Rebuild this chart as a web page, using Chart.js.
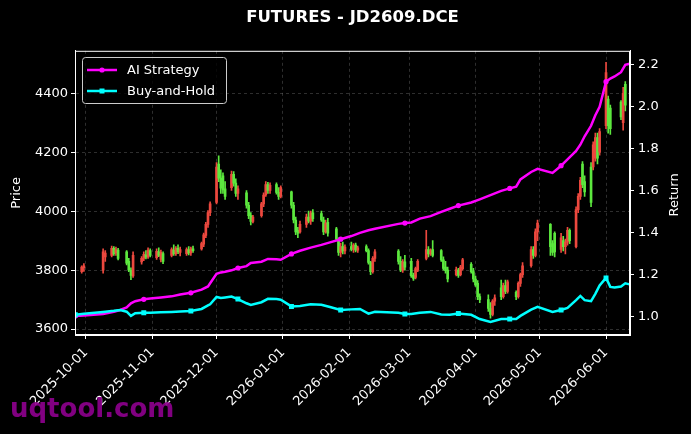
<!DOCTYPE html>
<html><head><meta charset="utf-8">
<script src="https://cdn.jsdelivr.net/npm/chart.js@4.4.1/dist/chart.umd.min.js"></script>
<style>html,body{margin:0;padding:0;background:#000;} #wrap{position:relative;width:691px;height:434px;}</style>
</head><body><div id="wrap"><canvas id="c" width="691" height="434"></canvas></div>
<script>
const chartTitle = 'FUTURES - JD2609.DCE';
const xTickLabels = ['2025-10-01','2025-11-01','2025-12-01','2026-01-01','2026-02-01','2026-03-01','2026-04-01','2026-05-01','2026-06-01'];
const priceTicks = [3600, 3800, 4000, 4200, 4400];
const returnTicks = [1.0, 1.2, 1.4, 1.6, 1.8, 2.0, 2.2];

const candleDates = ['2025-09-29','2025-09-30','2025-10-09','2025-10-10','2025-10-13','2025-10-14','2025-10-15','2025-10-16','2025-10-20','2025-10-21','2025-10-22','2025-10-23','2025-10-27','2025-10-28','2025-10-29','2025-10-30','2025-10-31','2025-11-03','2025-11-04','2025-11-05','2025-11-06','2025-11-10','2025-11-11','2025-11-12','2025-11-13','2025-11-14','2025-11-17','2025-11-18','2025-11-19','2025-11-20','2025-11-24','2025-11-25','2025-11-26','2025-11-27','2025-11-28','2025-12-01','2025-12-02','2025-12-03','2025-12-04','2025-12-05','2025-12-08','2025-12-09','2025-12-10','2025-12-11','2025-12-15','2025-12-16','2025-12-17','2025-12-18','2025-12-22','2025-12-23','2025-12-24','2025-12-25','2025-12-26','2025-12-29','2025-12-30','2025-12-31','2026-01-05','2026-01-06','2026-01-07','2026-01-08','2026-01-09','2026-01-12','2026-01-13','2026-01-14','2026-01-15','2026-01-19','2026-01-20','2026-01-21','2026-01-22','2026-01-26','2026-01-27','2026-01-28','2026-01-29','2026-01-30','2026-02-02','2026-02-03','2026-02-04','2026-02-05','2026-02-09','2026-02-10','2026-02-11','2026-02-12','2026-02-13','2026-02-24','2026-02-25','2026-02-26','2026-02-27','2026-03-02','2026-03-03','2026-03-04','2026-03-05','2026-03-09','2026-03-10','2026-03-11','2026-03-12','2026-03-16','2026-03-17','2026-03-18','2026-03-19','2026-03-23','2026-03-24','2026-03-25','2026-03-26','2026-03-30','2026-03-31','2026-04-01','2026-04-02','2026-04-03','2026-04-07','2026-04-08','2026-04-09','2026-04-10','2026-04-13','2026-04-14','2026-04-15','2026-04-16','2026-04-20','2026-04-21','2026-04-22','2026-04-23','2026-04-27','2026-04-28','2026-04-29','2026-04-30','2026-05-06','2026-05-07','2026-05-08','2026-05-11','2026-05-12','2026-05-13','2026-05-14','2026-05-15','2026-05-18','2026-05-19','2026-05-20','2026-05-21','2026-05-22','2026-05-25','2026-05-26','2026-05-27','2026-05-28','2026-05-29','2026-06-01','2026-06-02','2026-06-03','2026-06-08','2026-06-09','2026-06-10'];
const openP  = [3795,3808,3800,3845,3850,3874,3858,3868,3862,3830,3800,3780,3828,3840,3852,3845,3866,3842,3862,3836,3856,3850,3868,3856,3874,3860,3856,3870,3858,3872,3872,3888,3918,3955,3995,4030,4160,4112,4120,4076,4080,4125,4095,4060,4062,4020,3985,3965,3985,4025,4055,4090,4070,4090,4064,4050,4066,4020,3970,3935,3930,3955,3980,3966,3994,3992,3970,3930,3962,3940,3905,3860,3880,3865,3880,3870,3885,3868,3880,3866,3826,3795,3840,3865,3830,3800,3828,3830,3782,3775,3800,3840,3870,3855,3870,3866,3835,3810,3800,3785,3800,3785,3805,3820,3795,3770,3755,3710,3700,3670,3650,3695,3740,3710,3748,3728,3725,3710,3755,3785,3815,3870,3850,3930,3955,3890,3925,3870,3900,3880,3895,3935,3880,4005,4050,4160,4100,4150,4150,4180,4250,4200,4290,4380,4350,4370,4300,4430];
const highP  = [3815,3822,3872,3866,3882,3880,3878,3874,3866,3840,3808,3862,3846,3862,3866,3876,3872,3872,3876,3868,3862,3876,3886,3880,3886,3878,3876,3880,3878,3882,3895,3926,3962,4002,4032,4165,4188,4140,4130,4100,4136,4134,4110,4086,4070,4030,3995,3986,4030,4062,4100,4098,4096,4096,4080,4086,4068,4030,3980,3945,3966,3990,4000,4000,4005,4000,3980,3970,3976,3945,3910,3892,3895,3886,3895,3890,3892,3882,3886,3872,3830,3846,3870,3870,3846,3836,3850,3840,3790,3810,3836,3935,3880,3872,3900,3870,3845,3830,3810,3810,3806,3816,3840,3826,3806,3780,3765,3720,3716,3690,3700,3716,3766,3756,3766,3766,3730,3760,3790,3826,3880,3880,3940,3970,3958,3900,3930,3925,3915,3905,3945,3940,4015,4060,4115,4168,4120,4165,4235,4265,4265,4280,4505,4390,4360,4375,4420,4440];
const lowP   = [3790,3796,3790,3830,3845,3850,3850,3835,3818,3795,3768,3775,3820,3832,3838,3840,3845,3836,3846,3828,3822,3845,3850,3850,3856,3848,3850,3852,3850,3860,3868,3880,3910,3945,3985,4025,4100,4060,4060,4040,4070,4085,4050,4040,4010,3975,3953,3960,3980,4015,4050,4060,4060,4058,4040,4045,4010,3960,3920,3910,3925,3945,3960,3955,3965,3965,3920,3925,3915,3900,3850,3845,3855,3855,3865,3860,3862,3860,3862,3820,3785,3790,3830,3820,3795,3792,3800,3775,3765,3770,3795,3835,3845,3850,3845,3830,3800,3790,3760,3780,3775,3780,3800,3790,3760,3745,3700,3690,3660,3637,3645,3680,3700,3705,3720,3722,3700,3705,3745,3775,3810,3840,3845,3900,3850,3850,3845,3860,3865,3855,3885,3890,3875,3995,4040,4080,4050,4015,4140,4170,4160,4190,4280,4265,4260,4310,4275,4340];
const closeP = [3810,3815,3862,3858,3874,3856,3870,3840,3824,3800,3782,3850,3840,3854,3844,3868,3850,3864,3850,3860,3830,3870,3856,3874,3862,3870,3870,3858,3872,3866,3890,3920,3955,3995,4025,4150,4112,4078,4072,4050,4125,4095,4060,4076,4020,3985,3965,3980,4025,4055,4090,4070,4088,4064,4050,4080,4020,3970,3930,3925,3955,3980,3966,3994,3975,3970,3930,3960,3925,3905,3860,3880,3865,3878,3870,3885,3868,3876,3866,3826,3795,3840,3862,3830,3800,3828,3810,3780,3772,3805,3830,3870,3855,3866,3850,3835,3806,3798,3770,3802,3782,3810,3835,3795,3770,3750,3710,3700,3670,3650,3695,3706,3710,3748,3728,3760,3710,3755,3785,3815,3870,3850,3930,3960,3880,3860,3862,3910,3880,3895,3935,3900,4005,4050,4105,4090,4065,4030,4225,4250,4180,4270,4470,4290,4280,4320,4400,4360];

const lineDates = ['2025-09-26','2025-09-30','2025-10-09','2025-10-14','2025-10-17','2025-10-20','2025-10-22','2025-10-24','2025-10-28','2025-10-31','2025-11-05','2025-11-10','2025-11-14','2025-11-19','2025-11-24','2025-11-27','2025-11-28','2025-12-01','2025-12-03','2025-12-05','2025-12-08','2025-12-11','2025-12-15','2025-12-17','2025-12-22','2025-12-25','2025-12-29','2025-12-31','2026-01-05','2026-01-09','2026-01-14','2026-01-19','2026-01-23','2026-01-28','2026-02-02','2026-02-06','2026-02-10','2026-02-13','2026-02-24','2026-02-27','2026-03-02','2026-03-06','2026-03-11','2026-03-16','2026-03-20','2026-03-24','2026-03-30','2026-04-03','2026-04-08','2026-04-13','2026-04-17','2026-04-20','2026-04-22','2026-04-27','2026-04-30','2026-05-07','2026-05-11','2026-05-14','2026-05-18','2026-05-20','2026-05-22','2026-05-25','2026-05-27','2026-05-29','2026-06-01','2026-06-03','2026-06-05','2026-06-08','2026-06-10','2026-06-12'];
const aiStrategy = [1.005,1.007,1.014,1.025,1.033,1.045,1.065,1.075,1.084,1.088,1.093,1.098,1.107,1.115,1.130,1.145,1.160,1.205,1.212,1.215,1.222,1.233,1.242,1.257,1.263,1.276,1.275,1.272,1.300,1.315,1.330,1.343,1.355,1.370,1.385,1.400,1.413,1.420,1.443,1.447,1.450,1.468,1.480,1.500,1.515,1.530,1.545,1.560,1.580,1.600,1.612,1.620,1.655,1.690,1.705,1.686,1.720,1.750,1.790,1.820,1.860,1.910,1.960,2.000,2.120,2.135,2.145,2.165,2.200,2.205];
const buyHold    = [1.010,1.015,1.024,1.029,1.033,1.025,1.005,1.018,1.020,1.020,1.022,1.024,1.026,1.028,1.038,1.055,1.060,1.095,1.090,1.093,1.097,1.085,1.065,1.057,1.070,1.086,1.085,1.082,1.050,1.052,1.060,1.058,1.047,1.033,1.036,1.038,1.016,1.025,1.020,1.014,1.014,1.020,1.024,1.012,1.010,1.016,1.010,0.990,0.976,0.990,0.990,0.990,1.005,1.035,1.048,1.024,1.033,1.043,1.080,1.100,1.080,1.075,1.110,1.150,1.186,1.143,1.140,1.145,1.160,1.155];
const markerDates = ['2025-09-26','2025-10-28','2025-11-19','2025-12-11','2026-01-05','2026-01-28','2026-02-27','2026-03-24','2026-04-17','2026-05-11','2026-06-01'];

const BASE = Date.UTC(2025, 9, 1);
const toDay = s => (Date.parse(s + 'T00:00:00Z') - BASE) / 86400000;
const markerSet = new Set(markerDates);
const UP = 'rgb(236,72,62)', DOWN = 'rgb(92,232,62)';
const candleColor = ctx => closeP[ctx.dataIndex] >= openP[ctx.dataIndex] ? UP : DOWN;

Chart.defaults.font.family = 'DejaVu Sans';
Chart.defaults.color = '#ffffff';

const decor = {
  id: 'decor',
  afterDatasetsDraw(chart) {
    const {ctx, chartArea: a} = chart;
    ctx.save();
    ctx.strokeStyle = '#ffffff'; ctx.lineWidth = 1;
    ctx.strokeRect(a.left + 0.5, a.top + 0.5, a.right - a.left - 1, a.bottom - a.top - 1);
    const bx = 82.5, by = 57.5, bw = 144, bh = 46;
    ctx.beginPath(); ctx.roundRect(bx, by, bw, bh, 3);
    ctx.fillStyle = 'rgba(0,0,0,0.8)'; ctx.fill();
    ctx.strokeStyle = '#cccccc'; ctx.lineWidth = 1; ctx.stroke();
    const items = [
      {label: chart.data.datasets[1].label, color: '#ff00ff', style: 'circle', y: 70},
      {label: chart.data.datasets[0].label, color: '#00ffff', style: 'rect', y: 91}
    ];
    items.forEach(it => {
      ctx.strokeStyle = it.color; ctx.lineWidth = 2.5;
      ctx.beginPath(); ctx.moveTo(87, it.y); ctx.lineTo(117, it.y); ctx.stroke();
      ctx.fillStyle = it.color;
      if (it.style === 'circle') { ctx.beginPath(); ctx.arc(102, it.y, 2.6, 0, Math.PI * 2); ctx.fill(); }
      else { ctx.fillRect(99.5, it.y - 2.5, 5, 5); }
      ctx.fillStyle = '#ffffff'; ctx.font = '13px "DejaVu Sans"';
      ctx.textAlign = 'left'; ctx.textBaseline = 'middle';
      ctx.fillText(it.label, 127, it.y + 0.5);
    });
    ctx.restore();
  },
  afterDraw(chart) {
    const {ctx, chartArea: a} = chart;
    ctx.save();
    ctx.fillStyle = '#ffffff'; ctx.font = '13px "DejaVu Sans"';
    ctx.translate(675, (a.top + a.bottom) / 2 + 2); ctx.rotate(-Math.PI / 2);
    ctx.textAlign = 'center'; ctx.textBaseline = 'middle';
    ctx.fillText('Return', 0, 0);
    ctx.restore();
    ctx.save();
    ctx.fillStyle = 'rgba(140,0,140,0.92)'; ctx.font = 'bold 26px "DejaVu Sans"';
    ctx.textAlign = 'left'; ctx.textBaseline = 'alphabetic';
    ctx.fillText('uqtool.com', 10, 417);
    ctx.restore();
  }
};

const gridCommon = {color: 'rgba(128,128,128,0.45)', lineWidth: 0.8, tickColor: '#ffffff', tickLength: 4, tickWidth: 1};

new Chart(document.getElementById('c'), {
  type: 'line',
  data: {
    datasets: [
      {
        type: 'line', label: 'Buy-and-Hold', yAxisID: 'y2',
        data: lineDates.map((d, i) => ({x: toDay(d), y: buyHold[i]})),
        borderColor: '#00ffff', backgroundColor: '#00ffff', borderWidth: 2.5, tension: 0,
        pointStyle: 'rect', pointRadius: c => markerSet.has(lineDates[c.dataIndex]) ? 3.5 : 0, pointBorderWidth: 0
      },
      {
        type: 'line', label: 'AI Strategy', yAxisID: 'y2',
        data: lineDates.map((d, i) => ({x: toDay(d), y: aiStrategy[i]})),
        borderColor: '#ff00ff', backgroundColor: '#ff00ff', borderWidth: 2.5, tension: 0,
        pointStyle: 'circle', pointRadius: c => markerSet.has(lineDates[c.dataIndex]) ? 2.6 : 0, pointBorderWidth: 0
      },
      {
        type: 'bar', label: 'body', yAxisID: 'y', grouped: false,
        data: candleDates.map((d, i) => ({x: toDay(d), y: [openP[i], closeP[i]]})),
        backgroundColor: candleColor, borderWidth: 0, barThickness: 2
      },
      {
        type: 'bar', label: 'wick', yAxisID: 'y', grouped: false,
        data: candleDates.map((d, i) => ({x: toDay(d), y: [lowP[i], highP[i]]})),
        backgroundColor: candleColor, borderWidth: 0, barThickness: 1
      }
    ]
  },
  options: {
    responsive: false, animation: false, devicePixelRatio: 1,
    layout: {padding: 0},
    plugins: {
      legend: {display: false}, tooltip: {enabled: false},
      title: {display: true, text: chartTitle, color: '#ffffff', fullSize: false,
        font: {size: 16.5, weight: 'bold', family: 'DejaVu Sans'}, padding: {top: 8, bottom: 23}}
    },
    scales: {
      x: {
        type: 'linear', min: -5.14, max: 254.2, offset: false,
        afterBuildTicks: s => { s.ticks = xTickLabels.map(l => ({value: toDay(l)})); },
        ticks: {callback: (v, i) => xTickLabels[i], minRotation: 45, maxRotation: 45, autoSkip: false,
          color: '#ffffff', font: {size: 13}, padding: 6},
        grid: Object.assign({offset: false}, gridCommon),
        border: {color: '#ffffff', width: 1, dash: [3, 3]},
        afterFit: s => { s.height = 99; }
      },
      y: {
        type: 'linear', position: 'left', min: 3580, max: 4544,
        afterBuildTicks: s => { s.ticks = priceTicks.map(v => ({value: v})); },
        ticks: {autoSkip: false, color: '#ffffff', font: {size: 13}, padding: 3,
          callback: (v, i) => String(priceTicks[i])},
        grid: gridCommon,
        border: {color: '#ffffff', width: 1, dash: [3, 3]},
        title: {display: true, text: 'Price', color: '#ffffff', font: {size: 13}, padding: {top: 9, bottom: 0}},
        afterFit: s => { s.width = 75; }
      },
      y2: {
        type: 'linear', position: 'right', min: 0.914, max: 2.267,
        afterBuildTicks: s => { s.ticks = returnTicks.map(v => ({value: v})); },
        ticks: {autoSkip: false, color: '#ffffff', font: {size: 13}, padding: 4,
          callback: (v, i) => returnTicks[i].toFixed(1)},
        grid: Object.assign({}, gridCommon, {drawOnChartArea: false}),
        border: {color: '#ffffff', width: 1},
        afterFit: s => { s.width = 61; }
      }
    }
  },
  plugins: [decor]
});
</script>
</body></html>
